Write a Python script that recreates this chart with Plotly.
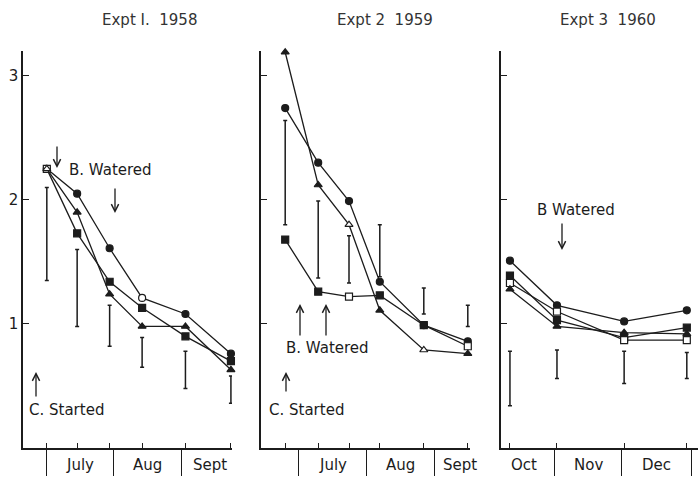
import pandas as pd
import plotly.graph_objects as go

INK = "#1c1c1c"
FONT = "DejaVu Sans"
W, H = 698, 479

# ---------------- Expt 1, 1958 ----------------
e1_dates = ["1958-07-01", "1958-07-15", "1958-07-30", "1958-08-14", "1958-09-03", "1958-09-24"]
e1_circle = [2.25, 2.05, 1.61, 1.21, 1.08, 0.76]
e1_circle_hollow = [True, False, False, True, False, False]
e1_square = [2.25, 1.73, 1.34, 1.13, 0.90, 0.70]
e1_square_hollow = [True, False, False, False, False, False]
e1_triangle = [2.25, 1.90, 1.24, 0.98, 0.98, 0.63]
e1_triangle_hollow = [True, False, False, False, False, False]
e1_bar_low = [1.35, 0.98, 0.82, 0.65, 0.48, 0.36]
e1_bar_high = [2.10, 1.60, 1.15, 0.89, 0.78, 0.58]
e1_months = ["1958-07", "1958-08", "1958-09"]
e1_month_names = ["July", "Aug", "Sept"]
e1_range = ["1958-06-20", "1958-09-24 12:00"]

# ---------------- Expt 2, 1959 ----------------
e2_dates = ["1959-06-25", "1959-07-10", "1959-07-24", "1959-08-07", "1959-08-27", "1959-09-16"]
e2_circle = [2.74, 2.30, 1.99, 1.34, 0.99, 0.86]
e2_circle_hollow = [False, False, False, False, False, False]
e2_square = [1.68, 1.26, 1.22, 1.23, 0.99, 0.82]
e2_square_hollow = [False, False, True, False, False, True]
e2_triangle = [3.19, 2.12, 1.80, 1.11, 0.79, 0.76]
e2_triangle_hollow = [False, False, True, False, True, False]
e2_bar_low = [1.80, 1.37, 1.33, 1.38, 1.08, 0.98]
e2_bar_high = [2.64, 1.99, 1.71, 1.80, 1.29, 1.15]
e2_months = ["1959-07", "1959-08", "1959-09"]
e2_month_names = ["July", "Aug", "Sept"]
e2_range = ["1959-06-14", "1959-09-17"]

# ---------------- Expt 3, 1960 ----------------
e3_dates = ["1960-10-12", "1960-11-02", "1960-12-02", "1960-12-30"]
e3_circle = [1.51, 1.15, 1.02, 1.11]
e3_circle_hollow = [False, False, False, False]
e3_square = [1.39, 1.03, 0.89, 0.97]
e3_square_hollow = [False, False, False, False]
e3_open_square = [1.33, 1.10, 0.87, 0.87]
e3_open_square_hollow = [True, True, True, True]
e3_triangle = [1.28, 0.98, 0.93, 0.92]
e3_triangle_hollow = [False, False, False, False]
e3_bar_low = [0.34, 0.56, 0.52, 0.56]
e3_bar_high = [0.78, 0.79, 0.78, 0.77]
e3_months = ["1960-10", "1960-11", "1960-12"]
e3_month_names = ["Oct", "Nov", "Dec"]
e3_range = ["1960-10-08", "1961-01-04"]

panels = [
    dict(dates=e1_dates,
         series=[(e1_circle, "circle", e1_circle_hollow),
                 (e1_square, "square", e1_square_hollow),
                 (e1_triangle, "triangle-up", e1_triangle_hollow)],
         low=e1_bar_low, high=e1_bar_high, months=e1_months,
         month_names=e1_month_names, rng=e1_range, px=(23, 232),
         title="Expt I.  1958", title_x=149, ylabels=True),
    dict(dates=e2_dates,
         series=[(e2_circle, "circle", e2_circle_hollow),
                 (e2_square, "square", e2_square_hollow),
                 (e2_triangle, "triangle-up", e2_triangle_hollow)],
         low=e2_bar_low, high=e2_bar_high, months=e2_months,
         month_names=e2_month_names, rng=e2_range, px=(261, 470),
         title="Expt 2  1959", title_x=385, ylabels=False),
    dict(dates=e3_dates,
         series=[(e3_circle, "circle", e3_circle_hollow),
                 (e3_square, "square", e3_square_hollow),
                 (e3_open_square, "square", e3_open_square_hollow),
                 (e3_triangle, "triangle-up", e3_triangle_hollow)],
         low=e3_bar_low, high=e3_bar_high, months=e3_months,
         month_names=e3_month_names, rng=e3_range, px=(501, 698),
         title="Expt 3  1960", title_x=608, ylabels=False),
]


def paper_x(px):
    return px / W


def paper_y(py):
    return 1 - py / H


BASE_PY, TOP_PY = 448, 51
Y_MAX = 3.2

fig = go.Figure()
annotations = []

for i, p in enumerate(panels, start=1):
    xa = "x" if i == 1 else f"x{i}"
    ya = "y" if i == 1 else f"y{i}"

    # range bars (vertical bars with small caps)
    fig.add_trace(go.Scatter(
        x=p["dates"], y=p["high"], mode="markers",
        marker=dict(size=1, color="rgba(0,0,0,0)"),
        error_y=dict(type="data", symmetric=False,
                     array=[0] * len(p["high"]),
                     arrayminus=[h - l for h, l in zip(p["high"], p["low"])],
                     width=2, thickness=1.5, color=INK),
        xaxis=xa, yaxis=ya, hoverinfo="skip", showlegend=False))

    # treatment series
    for vals, sym, hollow in p["series"]:
        fig.add_trace(go.Scatter(
            x=p["dates"], y=vals, mode="lines+markers", cliponaxis=False,
            line=dict(color=INK, width=1.3),
            marker=dict(symbol=sym, size=7,
                        color=["white" if h else INK for h in hollow],
                        line=dict(color=INK, width=1.2)),
            xaxis=xa, yaxis=ya, showlegend=False))

    # month boundaries inside the axis range, and label centres
    lo, hi = pd.Timestamp(p["rng"][0]), pd.Timestamp(p["rng"][1])
    bounds = set()
    for m, name in zip(p["months"], p["month_names"]):
        start = pd.Timestamp(m + "-01")
        end = start + pd.offsets.MonthBegin(1)
        for b in (start, end):
            if lo <= b <= hi:
                bounds.add(b)
        c0, c1 = max(start, lo), min(end, hi)
        clipped_mid = c0 + (c1 - c0) / 2
        full_mid = start + (end - start) / 2
        centre = clipped_mid + (full_mid - clipped_mid) / 2
        annotations.append(dict(
            x=centre.strftime("%Y-%m-%d %H:%M"), xref=xa,
            y=paper_y(465), yref="paper", text=name, showarrow=False,
            font=dict(family=FONT, size=15, color=INK),
            xanchor="center", yanchor="middle"))
    bounds = sorted(bounds)

    dom = [paper_x(p["px"][0]), paper_x(p["px"][1])]
    fig.update_layout(**{
        ("xaxis" if i == 1 else f"xaxis{i}"): dict(
            domain=dom, anchor=ya, type="date", range=p["rng"],
            showline=True, linecolor=INK, linewidth=1.5,
            ticks="outside", ticklen=26, tickwidth=1.3, tickcolor=INK,
            tickmode="array", tickvals=[b.strftime("%Y-%m-%d") for b in bounds],
            showticklabels=False, showgrid=False, zeroline=False,
            # short upward ticks at each sampling date
            minor=dict(tickmode="array", tickvals=p["dates"], ticks="inside",
                       ticklen=5, tickwidth=1.3, tickcolor=INK, showgrid=False)),
        ("yaxis" if i == 1 else f"yaxis{i}"): dict(
            domain=[paper_y(BASE_PY), paper_y(TOP_PY)], anchor=xa,
            range=[0, Y_MAX], showline=True, linecolor=INK, linewidth=1.5,
            ticks="inside", ticklen=6, tickwidth=1.3, tickcolor=INK,
            tickmode="array", tickvals=[1, 2, 3],
            showticklabels=p["ylabels"],
            tickfont=dict(family=FONT, size=15, color=INK),
            showgrid=False, zeroline=False),
    })

    annotations.append(dict(
        x=paper_x(p["title_x"]), y=paper_y(20), xref="paper", yref="paper",
        text=p["title"], showarrow=False, xanchor="center", yanchor="middle",
        font=dict(family=FONT, size=15, color="#333333")))


def label(text, left, mid):
    annotations.append(dict(
        x=paper_x(left), y=paper_y(mid), xref="paper", yref="paper",
        text=text, showarrow=False, xanchor="left", yanchor="middle",
        font=dict(family=FONT, size=15, color=INK)))


def arrow(px, tip, tail):
    annotations.append(dict(
        x=paper_x(px), y=paper_y(tip), xref="paper", yref="paper",
        ax=0, ay=tail - tip, text="", showarrow=True,
        arrowhead=5, arrowsize=1.1, arrowwidth=1.3, arrowcolor=INK))


# Expt 1 notes
label("B. Watered", 67, 170)
arrow(57, 168, 145)
arrow(115, 213, 187)
label("C. Started", 27, 410)
arrow(36, 372, 398)

# Expt 2 notes
arrow(300, 304, 337)
arrow(326, 304, 337)
label("B. Watered", 284, 348)
arrow(286, 372, 393)
label("C. Started", 267, 410)

# Expt 3 notes
label("B Watered", 535, 210)
arrow(562, 250, 222)

fig.update_layout(
    width=W, height=H,
    margin=dict(l=0, r=0, t=0, b=0),
    paper_bgcolor="white", plot_bgcolor="white",
    showlegend=False, annotations=annotations,
)

fig.write_html("out.html")
